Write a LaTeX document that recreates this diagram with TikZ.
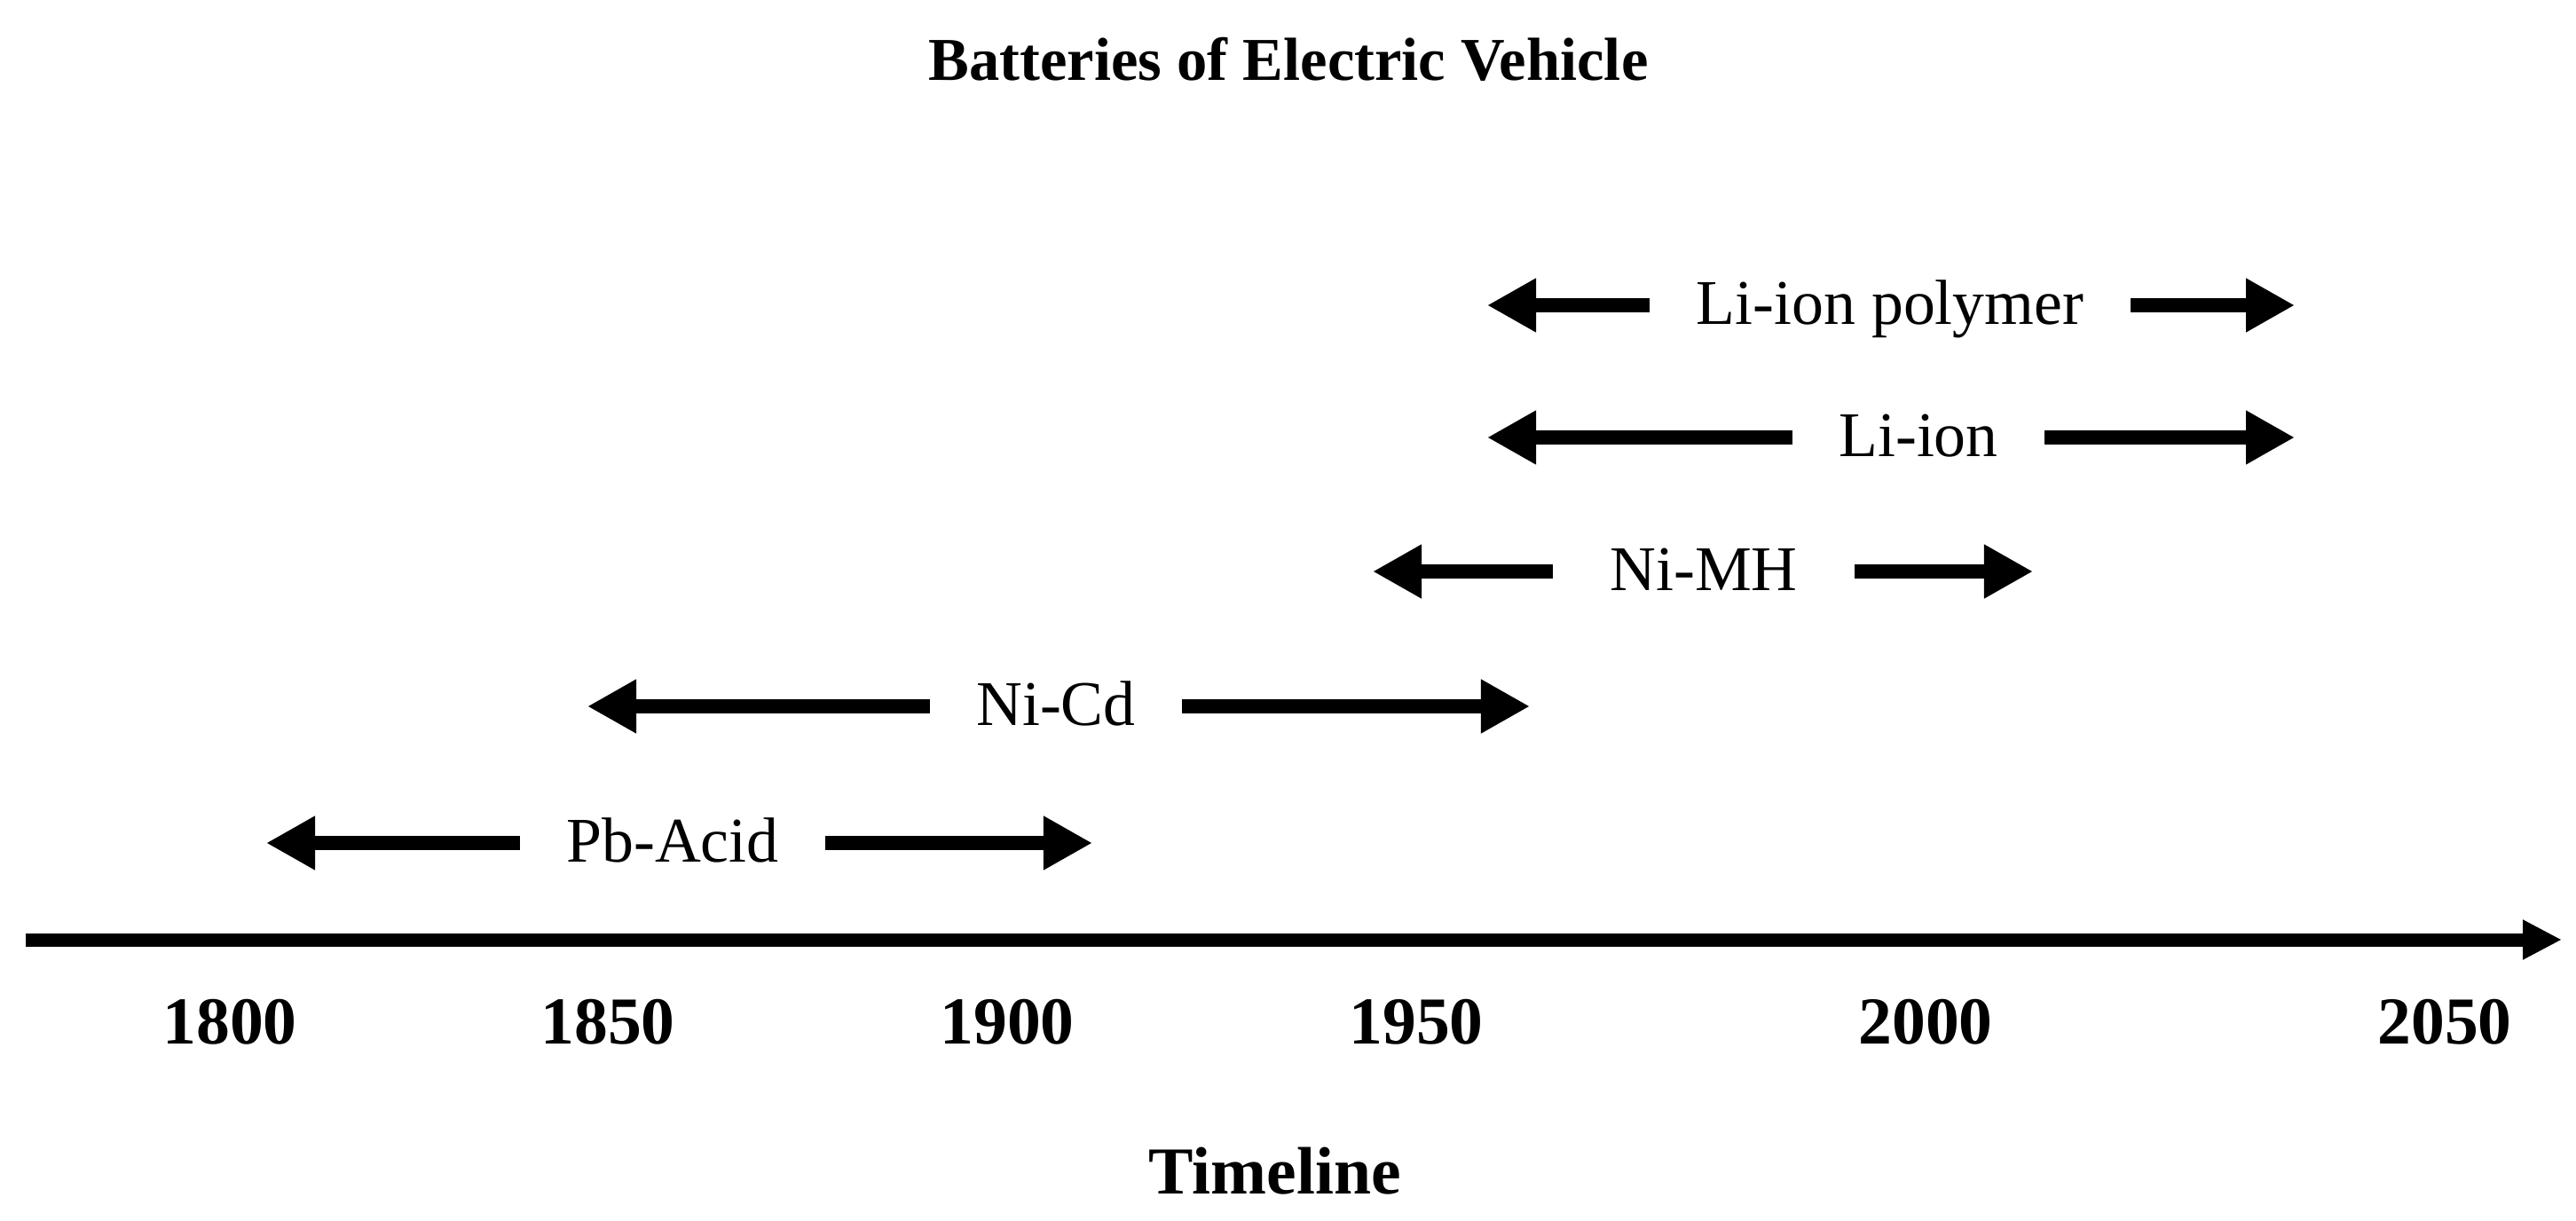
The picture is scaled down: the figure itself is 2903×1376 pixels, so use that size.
\documentclass[tikz,border=0pt]{standalone}
\usepackage{fontspec}
\setmainfont{Liberation Serif}
\usetikzlibrary{arrows.meta,positioning}

\tikzset{
  era/.style={inner xsep=0.52cm, inner ysep=0pt, text height=16pt, text depth=4pt,
    font=\fontsize{20.4}{24}\selectfont},
  spanline/.style={line width=0.16cm, -{Triangle[length=0.55cm,width=0.57cm]}},
  axisline/.style={line width=0.15cm, -{Triangle[length=0.44cm,width=0.42cm]}},
  yearlbl/.style={inner sep=0pt, text height=14.6pt, text depth=0pt,
    font=\fontsize{21.5}{25}\selectfont\bfseries},
  headlbl/.style={inner sep=0pt, text height=13pt, text depth=0pt,
    font=\fontsize{19.5}{23}\selectfont\bfseries}
}

\begin{document}
\begin{tikzpicture}[x=0.01cm,y=-0.01cm]
\useasboundingbox[fill=white] (0,0) rectangle (2903,1376);

% Title
\node[headlbl] (title) at (1452,68) {Batteries of Electric Vehicle};

% Battery eras
\node[era] (pb) at (758,950) {Pb-Acid};
\coordinate (pbL) at (300,950);
\coordinate (pbR) at (1231,950);
\draw[spanline] (pb) -- (pbL);
\draw[spanline] (pb) -- (pbR);

\node[era] (nicd) at (1190,796) {Ni-Cd};
\coordinate (nicdL) at (662,796);
\coordinate (nicdR) at (1724,796);
\draw[spanline] (nicd) -- (nicdL);
\draw[spanline] (nicd) -- (nicdR);

\node[era, inner xsep=0.64cm] (nimh) at (1920,644) {Ni-MH};
\coordinate (nimhL) at (1547,644);
\coordinate (nimhR) at (2291,644);
\draw[spanline] (nimh) -- (nimhL);
\draw[spanline] (nimh) -- (nimhR);

\node[era] (li) at (2162,493) {Li-ion};
\coordinate (liL) at (1676,493);
\coordinate (liR) at (2586,493);
\draw[spanline] (li) -- (liL);
\draw[spanline] (li) -- (liR);

\node[era] (lipo) at (2130,344) {Li-ion polymer};
\coordinate (lipoL) at (1676,344);
\coordinate (lipoR) at (2586,344);
\draw[spanline] (lipo) -- (lipoL);
\draw[spanline] (lipo) -- (lipoR);

% Time axis
\coordinate (axisL) at (29,1059);
\coordinate (axisR) at (2887,1059);
\draw[axisline] (axisL) -- (axisR);

\node[yearlbl] (y1800) at (259,1151) {1800};
\node[yearlbl] (y1850) at (685,1151) {1850};
\node[yearlbl] (y1900) at (1135,1151) {1900};
\node[yearlbl] (y1950) at (1596,1151) {1950};
\node[yearlbl] (y2000) at (2170,1151) {2000};
\node[yearlbl] (y2050) at (2755,1151) {2050};

\node[yearlbl] (timeline) at (1437,1320) {Timeline};
\end{tikzpicture}
\end{document}
